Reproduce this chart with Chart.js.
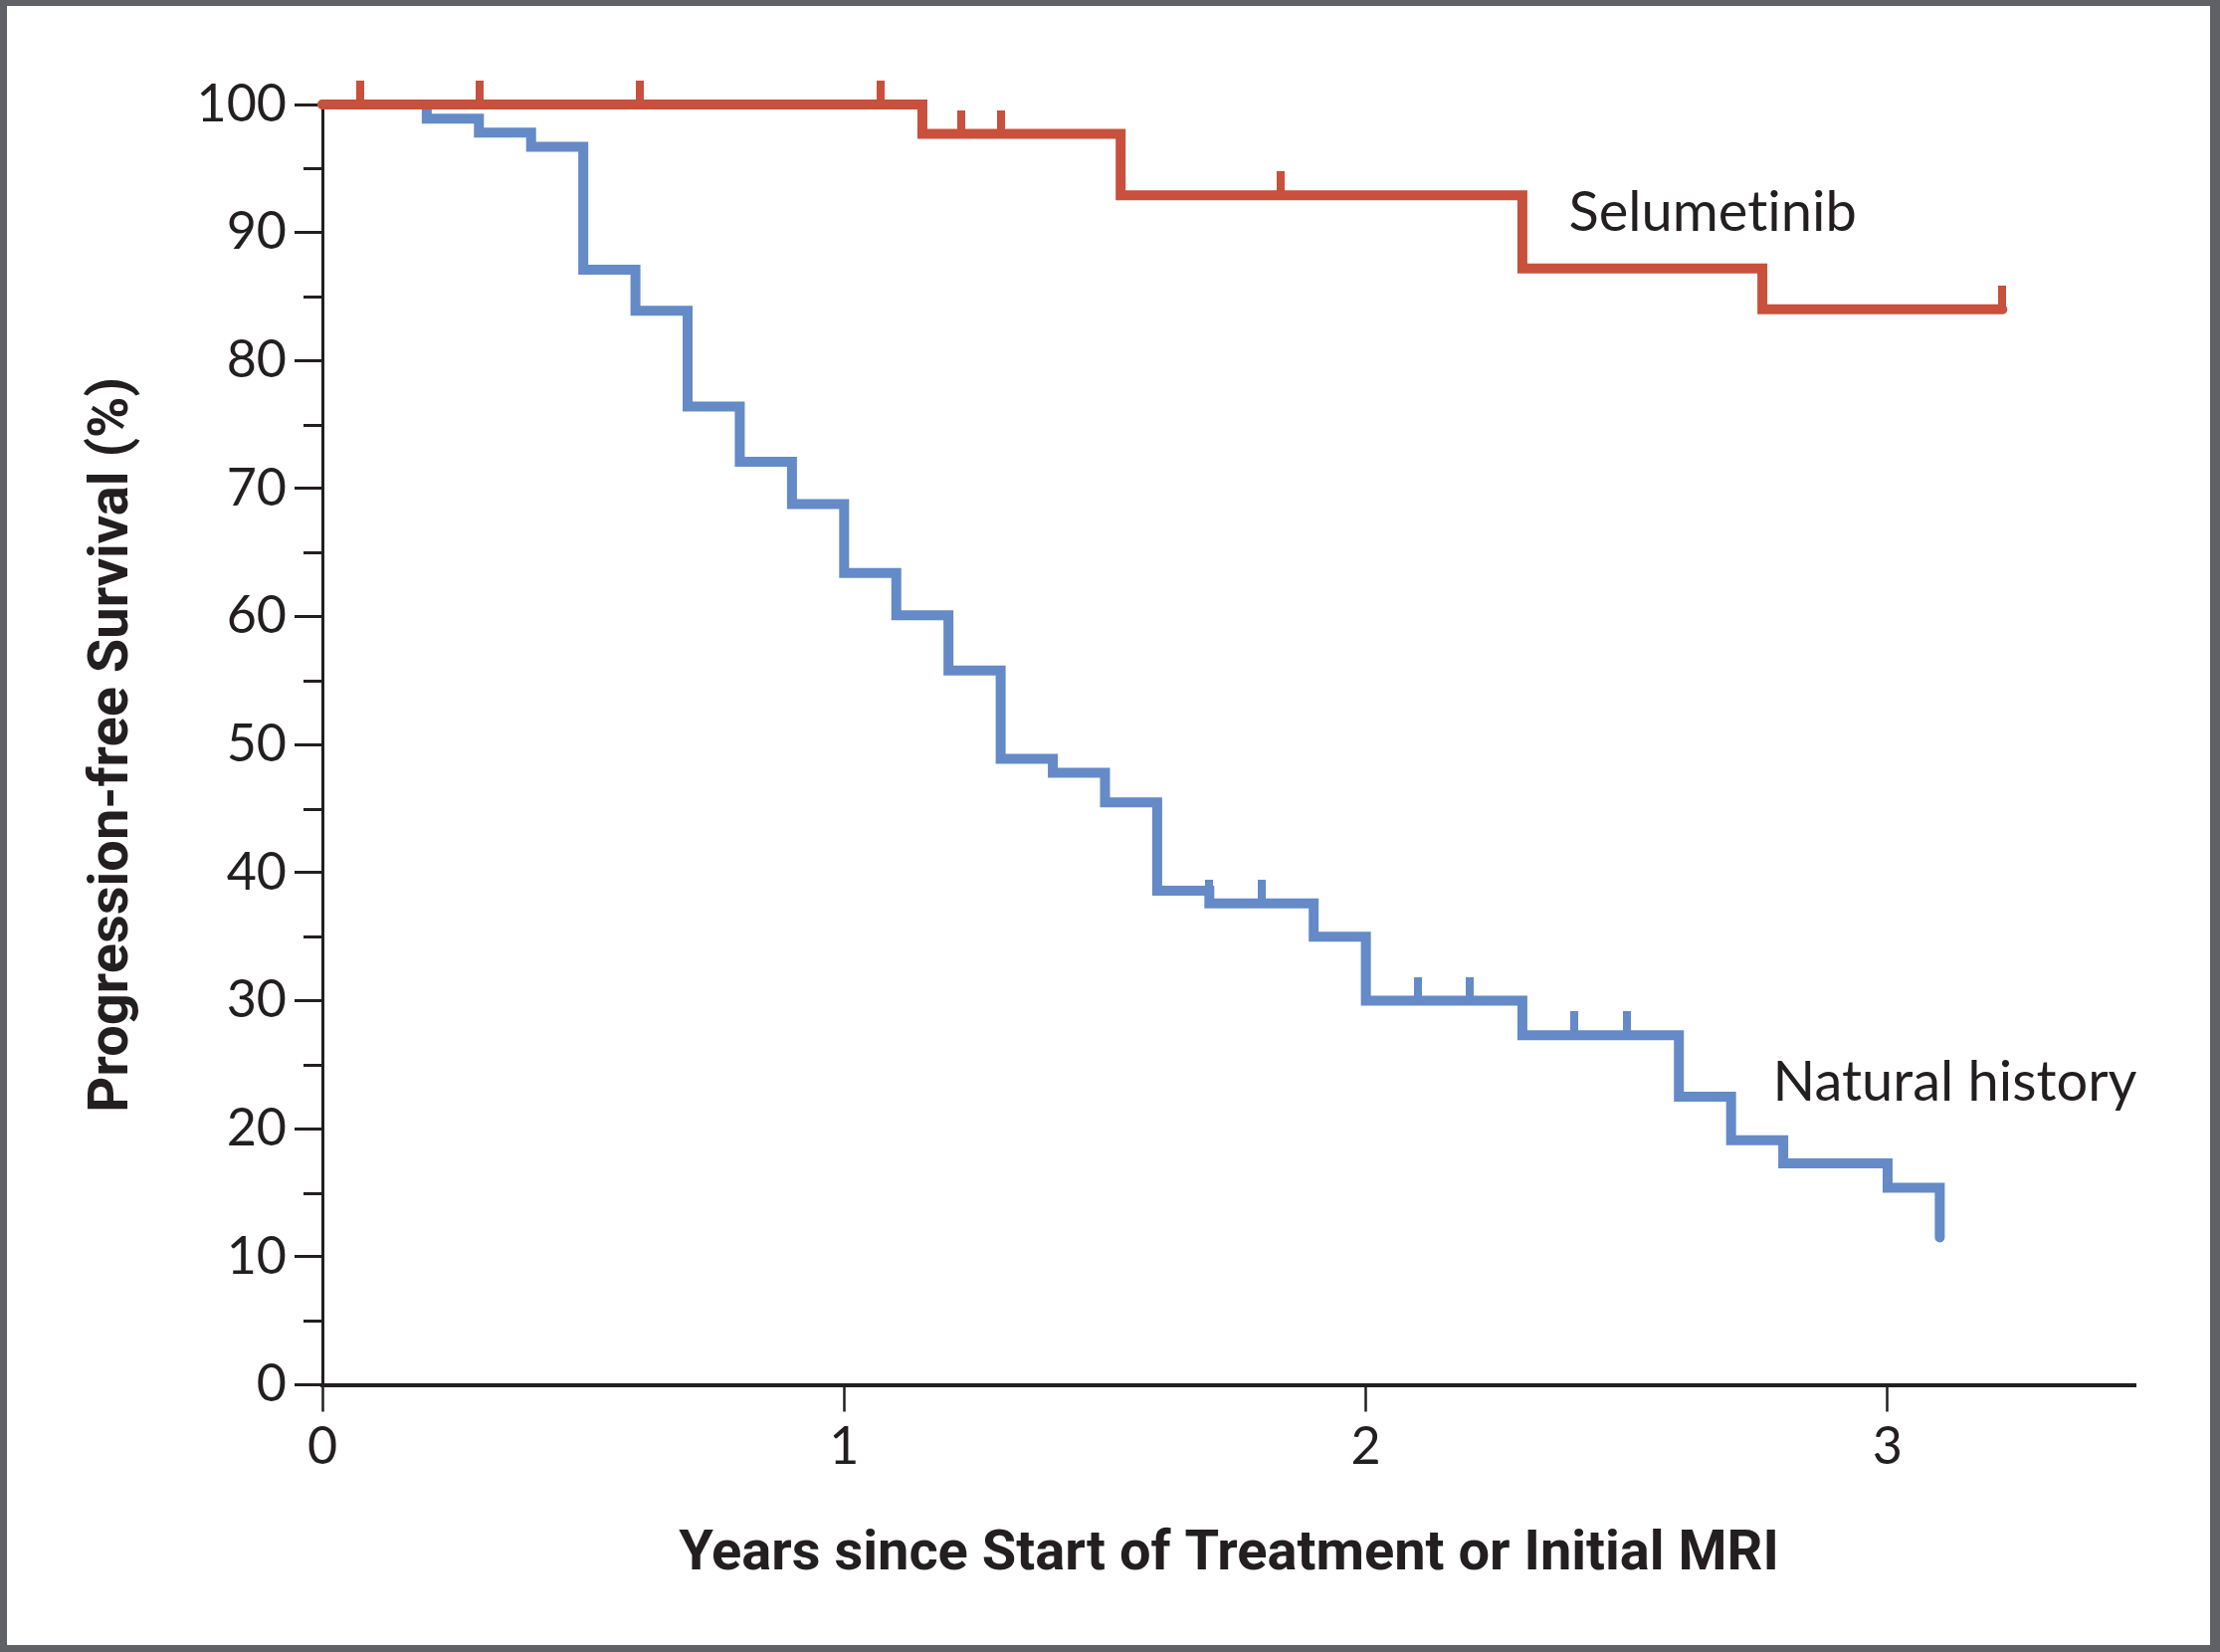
<!DOCTYPE html>
<html>
<head>
<meta charset="utf-8">
<script src="https://cdn.jsdelivr.net/npm/chart.js@4/dist/chart.umd.min.js"></script>
<style>
html,body{margin:0;padding:0;background:#fff;}
#wrap{position:relative;width:2231px;height:1660px;}
canvas{display:block;}
</style>
</head>
<body>
<div id="wrap"><canvas id="c" width="2231" height="1660"></canvas></div>
<script>
// ---------- DATA ----------
const selTimes = [0, 1.15, 1.53, 2.30, 2.76, 3.22];
const selSurv  = [100, 97.7, 92.9, 87.2, 84.0, 84.0];
const selCensorTimes = [0.073, 0.302, 0.609, 1.070, 1.224, 1.300, 1.837, 3.22];
const selCensorSurv  = [100, 100, 100, 100, 97.7, 97.7, 92.9, 84.0];

const nhTimes = [0, 0.2, 0.3, 0.4, 0.5, 0.6, 0.7, 0.8, 0.9, 1.0, 1.1, 1.2, 1.3, 1.4, 1.5, 1.6, 1.7, 1.9, 2.0, 2.3, 2.6, 2.7, 2.8, 3.0, 3.1];
const nhSurv  = [100, 98.9, 97.8, 96.7, 87.1, 83.9, 76.4, 72.1, 68.8, 63.4, 60.1, 55.8, 48.9, 47.8, 45.5, 38.6, 37.6, 35.0, 30.0, 27.3, 22.5, 19.1, 17.3, 15.4, 11.5];
const nhCensorTimes = [1.70, 1.80, 2.10, 2.20, 2.40, 2.50];
const nhCensorSurv  = [37.6, 37.6, 30.0, 30.0, 27.3, 27.3];

const xTickValues = [0, 1, 2, 3];
const yMajorTicks = [0, 10, 20, 30, 40, 50, 60, 70, 80, 90, 100];
const yMinorTicks = [5, 15, 25, 35, 45, 55, 65, 75, 85, 95];

// U+200C keeps the font from forming a "ti" ligature
const seriesNames = ['Selumet\u200Cinib', 'Natural history'];
const xTitle = 'Years since Start of Treatment or Initial MRI';
const yTitle = 'Progression-free Survival (%)';

// label placement (data coords of left-baseline of text)
const labelPos = [{x: 2.389, y: 90.1}, {x: 2.780, y: 22.2}];

// ---------- STYLE ----------
const RED = '#C8503C';
const BLUE = '#648AC7';
const INK = '#231f20';
const FRAME = '#606166';
const tickFont = {family: 'Lato', size: 52};
const titleFont = {family: "'Liberation Sans Narrow', 'Arial Narrow', Roboto, sans-serif", size: 56, weight: 'bold'};

function censorMark(color) {
  const c = document.createElement('canvas');
  const h = 24, w = 8;
  c.width = w; c.height = h * 2;
  const g = c.getContext('2d');
  g.fillStyle = color;
  g.fillRect(0, 0, w, h + 2);
  return c;
}

const toPts = (xs, ys) => xs.map((x, i) => ({x: x, y: ys[i]}));

const framePlugin = {
  id: 'frame',
  beforeDraw(chart) {
    const ctx = chart.ctx;
    ctx.save();
    ctx.fillStyle = FRAME;
    ctx.fillRect(0, 0, chart.width, chart.height);
    ctx.fillStyle = '#ffffff';
    ctx.fillRect(7, 6, chart.width - 17, chart.height - 13);
    ctx.restore();
  }
};

const minorTickPlugin = {
  id: 'minorTicks',
  afterDraw(chart) {
    const ctx = chart.ctx, y = chart.scales.y, left = chart.chartArea.left;
    ctx.save();
    ctx.strokeStyle = INK;
    ctx.lineWidth = 3;
    yMinorTicks.forEach(v => {
      const py = Math.round(y.getPixelForValue(v)) + 0.5;
      ctx.beginPath();
      ctx.moveTo(left - 19, py);
      ctx.lineTo(left - 1, py);
      ctx.stroke();
    });
    ctx.restore();
  }
};

const labelPlugin = {
  id: 'seriesLabels',
  afterDraw(chart) {
    const ctx = chart.ctx, xs = chart.scales.x, ys = chart.scales.y;
    ctx.save();
    ctx.fillStyle = INK;
    ctx.font = '400 56px Lato';
    ctx.textAlign = 'left';
    ctx.textBaseline = 'alphabetic';
    seriesNames.forEach((n, i) => {
      ctx.fillText(n, xs.getPixelForValue(labelPos[i].x), ys.getPixelForValue(labelPos[i].y));
    });
    ctx.restore();
  }
};

new Chart(document.getElementById('c'), {
  type: 'line',
  data: {
    datasets: [
      {label: 'Selumetinib censored', data: toPts(selCensorTimes, selCensorSurv), showLine: false,
       pointStyle: censorMark(RED), pointRadius: 6, clip: false},
      {label: 'Selumetinib', data: toPts(selTimes, selSurv), borderColor: RED, borderWidth: 10,
       stepped: true, pointRadius: 0, fill: false, clip: false, borderCapStyle: 'round', borderJoinStyle: 'miter'},
      {label: 'Natural history censored', data: toPts(nhCensorTimes, nhCensorSurv), showLine: false,
       pointStyle: censorMark(BLUE), pointRadius: 6, clip: false},
      {label: 'Natural history', data: toPts(nhTimes, nhSurv), borderColor: BLUE, borderWidth: 10,
       stepped: true, pointRadius: 0, fill: false, clip: false, borderCapStyle: 'round', borderJoinStyle: 'miter'}
    ]
  },
  options: {
    responsive: false,
    animation: false,
    events: [],
    layout: {padding: {left: 0, right: 85, top: 105, bottom: 0}},
    plugins: {legend: {display: false}, tooltip: {enabled: false}},
    scales: {
      x: {
        type: 'linear', min: 0, max: 3.475,
        afterBuildTicks: s => { s.ticks = xTickValues.map(v => ({value: v})); },
        ticks: {font: tickFont, color: INK, padding: 5},
        grid: {drawOnChartArea: false, drawTicks: true, tickLength: 27, tickWidth: 2.5, tickColor: INK},
        border: {display: true, width: 4, color: INK},
        title: {display: true, text: xTitle, font: titleFont, color: INK, padding: {top: 0, bottom: 63}},
        afterFit: s => { s.height = 268.5; }
      },
      y: {
        type: 'linear', min: 0, max: 100,
        afterBuildTicks: s => { s.ticks = yMajorTicks.map(v => ({value: v})); },
        ticks: {font: tickFont, color: INK, padding: 8},
        grid: {drawOnChartArea: false, drawTicks: true, tickLength: 28, tickWidth: 3, tickColor: INK},
        border: {display: true, width: 3, color: INK},
        title: {display: true, text: yTitle, font: titleFont, color: INK, padding: {top: 80, bottom: 0}},
        afterFit: s => { s.width = 324; }
      }
    }
  },
  plugins: [framePlugin, minorTickPlugin, labelPlugin]
});
</script>
</body>
</html>
